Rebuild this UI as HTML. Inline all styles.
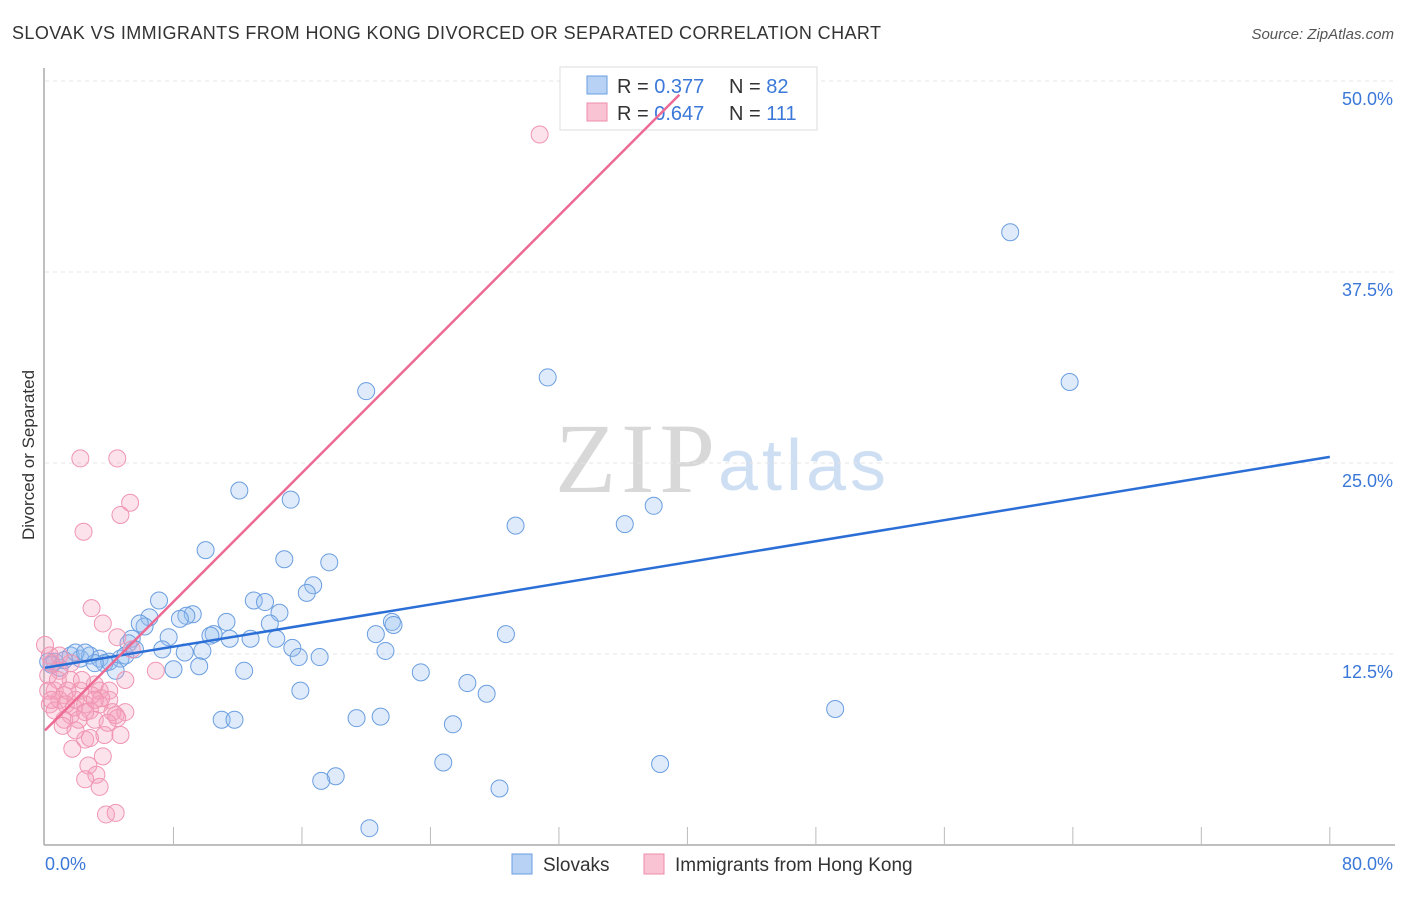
<!DOCTYPE html>
<html><head><meta charset="utf-8"><style>
body{margin:0;background:#fff;font-family:"Liberation Sans",sans-serif}
svg text{font-family:"Liberation Sans",sans-serif}
</style></head><body>
<svg id="c" width="1406" height="892">
<text x="12" y="39" font-size="18" fill="#333" textLength="869">SLOVAK VS IMMIGRANTS FROM HONG KONG DIVORCED OR SEPARATED CORRELATION CHART</text>
<text x="1394" y="39" font-size="15" fill="#555" font-style="italic" text-anchor="end">Source: ZipAtlas.com</text>
<text x="555" y="492" font-size="100" fill="#d8d8d8" style="font-family:'Liberation Serif',serif" textLength="160">ZIP</text>
<text x="718" y="490" font-size="72" fill="#cfdff3" textLength="168">atlas</text>
<text x="34" y="455" font-size="17" fill="#333" text-anchor="middle" transform="rotate(-90 34 455)">Divorced or Separated</text>
<g id="grid"></g><g id="pts"></g>
<g>
<rect x="560" y="67" width="257" height="63" fill="#fff" stroke="#ddd"/>
<rect x="587" y="76" width="20" height="18" fill="#b8d2f5" stroke="#6a9ee0"/>
<rect x="587" y="103" width="20" height="18" fill="#fac3d3" stroke="#ee8eab"/>
<text x="617" y="93" font-size="20" fill="#333">R = <tspan fill="#3b78d8">0.377</tspan></text>
<text x="729" y="93" font-size="20" fill="#333">N = <tspan fill="#3b78d8">82</tspan></text>
<text x="617" y="120" font-size="20" fill="#333">R = <tspan fill="#3b78d8">0.647</tspan></text>
<text x="729" y="120" font-size="20" fill="#333">N = <tspan fill="#3b78d8">111</tspan></text>
</g>
<g id="lines"></g>
<g>
<rect x="512" y="854" width="20" height="20" fill="#b8d2f5" stroke="#6a9ee0"/>
<text x="543" y="871" font-size="19" fill="#333">Slovaks</text>
<rect x="644" y="854" width="20" height="20" fill="#fac3d3" stroke="#ee8eab"/>
<text x="675" y="871" font-size="19" fill="#333">Immigrants from Hong Kong</text>
</g>
</svg>
<script>
const yTicks=[12.5,25,37.5,50];
const yTickLabels=["12.5%","25.0%","37.5%","50.0%"];
const xTicks=[0,8,16,24,32,40,48,56,64,72,80];
const blueX=[60.1,63.8,31.3,20.0,37.9,36.1,29.3,12.1,15.3,10.0,14.9,17.7,16.7,16.3,13.0,13.7,14.6,7.1,9.2,8.8,8.4,6.5,6.2,5.9,11.3,14.0,21.6,21.7,20.6,28.7,10.5,10.3,11.5,12.8,14.4,7.7,5.4,5.2,7.3,8.7,9.8,15.4,15.8,17.1,21.2,8.0,9.6,12.4,23.4,26.3,27.5,15.9,49.2,11.0,11.8,19.4,20.9,25.4,24.8,38.3,18.1,17.2,28.3,20.2,0.9,0.6,1.6,2.2,2.8,3.4,4.0,4.7,3.7,4.4,0.4,1.2,1.9,3.1,2.5,5.0,5.6,0.2];
const blueY=[40.1,30.3,30.6,29.7,22.2,21.0,20.9,23.2,22.6,19.3,18.7,18.5,17.0,16.5,16.0,15.9,15.2,16.0,15.1,15.0,14.8,14.9,14.3,14.5,14.6,14.5,14.6,14.4,13.8,13.8,13.8,13.7,13.5,13.5,13.5,13.6,13.5,13.2,12.8,12.6,12.7,12.9,12.3,12.3,12.7,11.5,11.7,11.4,11.3,10.6,9.9,10.1,8.9,8.2,8.2,8.3,8.4,7.9,5.4,5.3,4.5,4.2,3.7,1.1,11.6,12.0,12.4,12.2,12.4,12.2,12.0,12.2,11.9,11.4,11.8,12.1,12.6,11.9,12.6,12.4,12.8,12.0];
const pinkX=[30.8,2.2,4.5,5.3,4.7,2.4,2.9,3.6,4.5,0.0,5.4,0.3,6.9,0.9,0.2,5.0,1.6,3.1,3.4,0.6,1.2,1.9,2.5,2.8,4.0,2.2,0.9,0.3,1.6,3.1,4.4,5.0,1.2,1.9,2.5,3.7,4.7,2.8,1.7,3.6,2.7,3.2,2.5,3.4,3.8,4.4,0.6,1.1,2.1,3.4,4.0,1.4,0.8,2.3,2.9,3.5,4.2,4.5,0.2,0.4,1.3,1.8,2.5,3.1,3.9,0.9,0.4,1.6];
const pinkY=[46.5,25.3,25.3,22.4,21.6,20.5,15.5,14.5,13.6,13.1,12.8,12.4,11.4,11.4,11.1,10.8,10.8,10.5,10.1,10.1,9.8,9.5,9.2,8.8,9.5,10.1,9.5,9.2,8.5,8.2,8.5,8.7,8.2,7.5,6.9,7.2,7.2,7.0,6.3,5.8,5.2,4.6,4.3,3.8,2.0,2.1,8.8,7.8,8.2,9.2,10.1,10.1,10.8,10.8,9.8,9.6,8.7,8.3,10.1,9.5,9.2,9.0,8.7,9.5,8.0,12.4,11.9,11.9];
const blueFit=[[0,11.6],[80,25.4]];
const pinkFit=[[0,7.5],[39.5,49.1]];
const X=v=>45+v*16.06, Y=v=>845-v*15.28;
const NS="http://www.w3.org/2000/svg";
function mk(tag,attrs,parent){const e=document.createElementNS(NS,tag);for(const k in attrs)e.setAttribute(k,attrs[k]);parent.appendChild(e);return e;}
const grid=document.getElementById('grid'),pts=document.getElementById('pts'),lines=document.getElementById('lines');
mk('line',{x1:45,y1:Y(50),x2:1395,y2:Y(50),stroke:'#ddd','stroke-dasharray':'4 4'},grid);
yTicks.forEach((t,i)=>{
 const l=mk('line',{x1:45,y1:Y(t),x2:1395,y2:Y(t),stroke:'#e4e4e4','stroke-dasharray':'4 4'},grid);
 
 
 const tx=mk('text',{x:1393,y:Y(t)+24,'font-size':18,fill:'#3b78d8','text-anchor':'end'},grid);
 tx.textContent=yTickLabels[i];
 
 
});
mk('line',{x1:44,y1:68,x2:44,y2:845,stroke:'#aaa','stroke-width':1.5},grid);
mk('line',{x1:44,y1:845,x2:1395,y2:845,stroke:'#aaa','stroke-width':1.5},grid);
xTicks.forEach(t=>{if(t>0){const l=mk('line',{x1:X(t),y1:827,x2:X(t),y2:845,stroke:'#bbb'},grid);
 
 }});
const x0=mk('text',{x:45,y:870,'font-size':18,fill:'#3b78d8'},grid);x0.textContent='0.0%';


const x1=mk('text',{x:1393,y:870,'font-size':18,fill:'#3b78d8','text-anchor':'end'},grid);x1.textContent='80.0%';


blueX.forEach((v,i)=>{const c=mk('circle',{cx:X(v),cy:Y(blueY[i]),r:8.5,fill:'rgba(150,190,240,0.3)',stroke:'#6a9ee0','stroke-width':1},pts);
 
 });
pinkX.forEach((v,i)=>{const c=mk('circle',{cx:X(v),cy:Y(pinkY[i]),r:8.5,fill:'rgba(245,160,190,0.3)',stroke:'#f095b2','stroke-width':1},pts);
 
 });
const bl=mk('line',{x1:X(blueFit[0][0]),y1:Y(blueFit[0][1]),x2:X(blueFit[1][0]),y2:Y(blueFit[1][1]),stroke:'#2b6fd6','stroke-width':2.5},lines);


const pl=mk('line',{x1:X(pinkFit[0][0]),y1:Y(pinkFit[0][1]),x2:X(pinkFit[1][0]),y2:Y(pinkFit[1][1]),stroke:'#ec6a94','stroke-width':2.5},lines);


</script>
</body></html>
